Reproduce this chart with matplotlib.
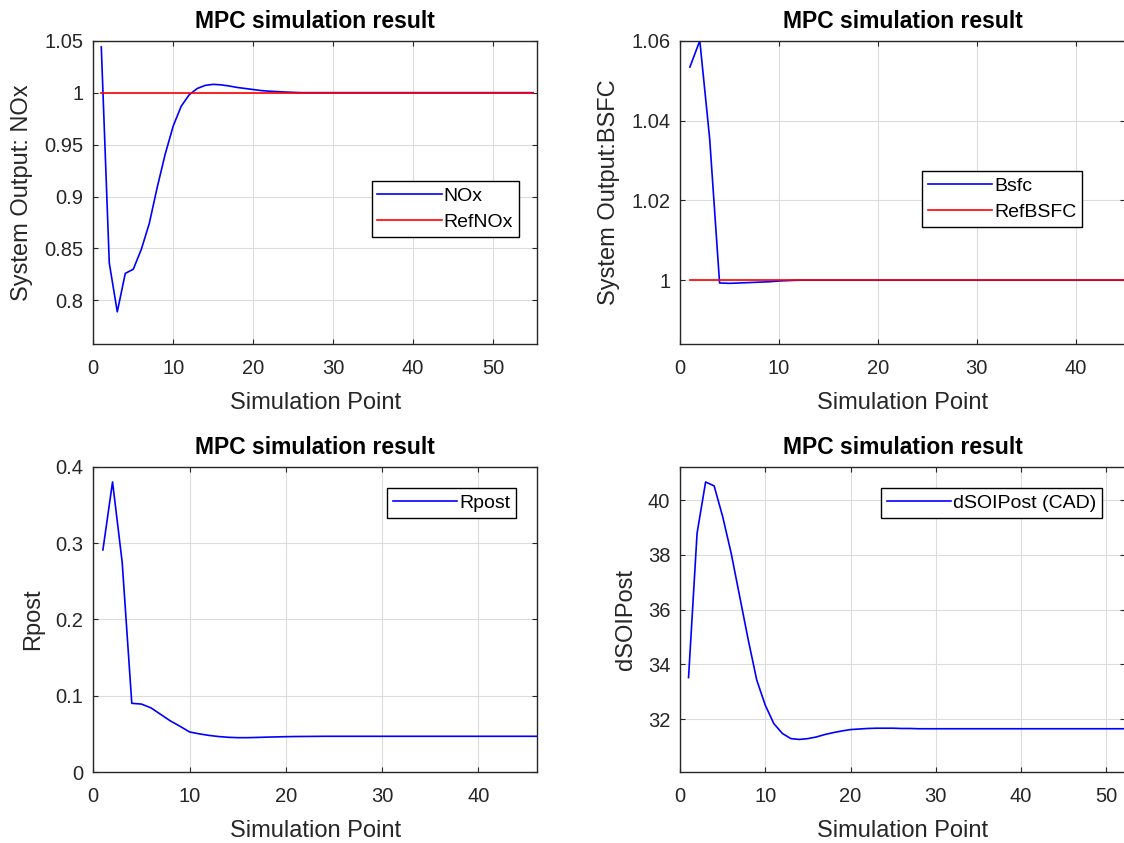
import matplotlib
matplotlib.use('Agg')
import matplotlib.pyplot as plt
from matplotlib.ticker import FormatStrFormatter

plt.rcParams['font.family'] = ['Liberation Sans', 'DejaVu Sans']

# Simulation points 1..55
points = list(range(1, 56))

# NOx output (top left) and its reference
nox = [1.044, 0.836, 0.789, 0.826, 0.830, 0.849, 0.874, 0.909, 0.941, 0.968,
       0.987, 0.998, 1.004, 1.007, 1.008, 1.0075, 1.0064, 1.005, 1.004, 1.003,
       1.002, 1.0014, 1.001, 1.0006, 1.0003] + [1.0] * 30
ref_nox = [1.0] * 55

# BSFC output (top right) and its reference
bsfc = [1.0534, 1.060, 1.0354, 0.9993, 0.9992, 0.9993, 0.9994, 0.9995, 0.9996, 0.9998,
        0.9999, 1.0] + [1.0] * 43
ref_bsfc = [1.0] * 55

# Rpost (bottom left)
rpost = [0.291, 0.380, 0.275, 0.090, 0.089, 0.084, 0.0755, 0.067, 0.060, 0.0525,
         0.050, 0.048, 0.0465, 0.0455, 0.045, 0.045, 0.0453, 0.0457, 0.046, 0.0463,
         0.0465, 0.0466, 0.0467, 0.0468] + [0.0468] * 31

# dSOIPost (bottom right)
dsoi = [33.52, 38.79, 40.66, 40.52, 39.40, 38.06, 36.48, 34.90, 33.43, 32.51,
        31.84, 31.48, 31.29, 31.26, 31.29, 31.35, 31.44, 31.51, 31.57, 31.62,
        31.64, 31.66, 31.67, 31.67, 31.67, 31.66, 31.66, 31.65] + [31.65] * 27

TITLE = 'MPC simulation result'
XLABEL = 'Simulation Point'
DARK = '#262626'


def style_axes(ax, xlim, ylim, xticks, yticks, ylabel, yfmt='%g'):
    ax.set_xlim(*xlim)
    ax.set_ylim(*ylim)
    ax.set_xticks(xticks)
    ax.set_yticks(yticks)
    ax.yaxis.set_major_formatter(FormatStrFormatter(yfmt))
    ax.grid(True, color='#dcdcdc', linewidth=0.8)
    ax.set_axisbelow(True)
    ax.tick_params(direction='in', length=3.6, width=0.8, top=True, right=True,
                   colors=DARK, labelsize=14.5)
    ax.tick_params(axis='x', pad=11)
    ax.tick_params(axis='y', pad=7)
    for spine in ax.spines.values():
        spine.set_color(DARK)
        spine.set_linewidth(1.0)
    ax.set_title(TITLE, fontsize=16.5, fontweight='bold', pad=9)
    ax.set_xlabel(XLABEL, fontsize=17, color=DARK, labelpad=10)
    ax.set_ylabel(ylabel, fontsize=17, color=DARK, labelpad=8)


def add_legend(ax, anchor):
    leg = ax.legend(loc='center', bbox_to_anchor=anchor, fontsize=14,
                    fancybox=False, framealpha=1, edgecolor='black',
                    handlelength=3.3, handletextpad=0.1, borderpad=0.3,
                    labelspacing=0.45, borderaxespad=0)
    leg.get_frame().set_linewidth(1.0)


fig = plt.figure(figsize=(11.24, 8.43), dpi=100)

ax1 = fig.add_axes([0.0830, 0.5919, 0.3948, 0.3598])
ax1.plot(points, nox, color='blue', linewidth=1.2, label='NOx')
ax1.plot(points, ref_nox, color='red', linewidth=1.2, label='RefNOx')
style_axes(ax1, (0, 55.5), (0.758, 1.05), range(0, 51, 10),
           [0.8, 0.85, 0.9, 0.95, 1.0, 1.05], 'System Output: NOx')
add_legend(ax1, (0.793, 0.445))

ax2 = fig.add_axes([0.6050, 0.5919, 0.3959, 0.3598])
ax2.plot(points, bsfc, color='blue', linewidth=1.2, label='Bsfc')
ax2.plot(points, ref_bsfc, color='red', linewidth=1.2, label='RefBSFC')
style_axes(ax2, (0, 45), (0.984, 1.06), range(0, 41, 10),
           [1.0, 1.02, 1.04, 1.06], 'System Output:BSFC')
add_legend(ax2, (0.724, 0.478))

ax3 = fig.add_axes([0.0830, 0.0842, 0.3948, 0.3622])
ax3.plot(points, rpost, color='blue', linewidth=1.2, label='Rpost')
style_axes(ax3, (0, 46.1), (0, 0.4), range(0, 41, 10),
           [0, 0.1, 0.2, 0.3, 0.4], 'Rpost')
add_legend(ax3, (0.808, 0.881))

ax4 = fig.add_axes([0.6050, 0.0842, 0.3959, 0.3622])
ax4.plot(points, dsoi, color='blue', linewidth=1.2, label='dSOIPost (CAD)')
style_axes(ax4, (0, 52.2), (30.07, 41.22), range(0, 51, 10),
           [32, 34, 36, 38, 40], 'dSOIPost')
add_legend(ax4, (0.701, 0.881))

fig.savefig('out.png', dpi=100)
